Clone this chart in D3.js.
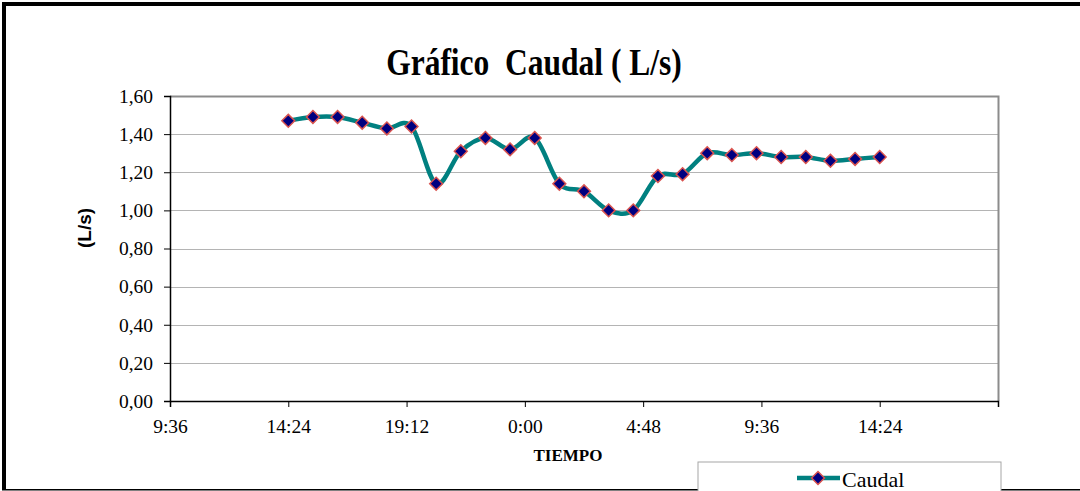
<!DOCTYPE html>
<html>
<head>
<meta charset="utf-8">
<script src="https://cdn.jsdelivr.net/npm/d3@7"></script>
<style>
  html, body { margin: 0; padding: 0; background: #fff; }
  svg { display: block; }
</style>
</head>
<body>
<div id="chart"></div>
<script>
// Hourly readings (time of day), day 1 14:24 to day 2 14:24
const horas = ["14:24", "15:24", "16:24", "17:24", "18:24", "19:24", "20:24", "21:24", "22:24", "23:24",
    "0:24", "1:24", "2:24", "3:24", "4:24", "5:24", "6:24", "7:24", "8:24", "9:24",
    "10:24", "11:24", "12:24", "13:24", "14:24"];
const caudal = [1.47, 1.49, 1.49, 1.46, 1.43, 1.44, 1.14, 1.31, 1.38, 1.32,
    1.38, 1.14, 1.10, 1.00, 1.00, 1.18, 1.19, 1.30, 1.29, 1.30,
    1.28, 1.28, 1.26, 1.27, 1.28];
const xTickLabels = ["9:36", "14:24", "19:12", "0:00", "4:48", "9:36", "14:24", ""];
const yTicks = [0, 0.2, 0.4, 0.6, 0.8, 1.0, 1.2, 1.4, 1.6];

const width = 1080, height = 491;
const margin = { left: 170, right: 82, top: 96, bottom: 90 };

// turn clock strings into hours, rolling over midnight
let prev = -1, dayOffset = 0;
const data = horas.map((h, i) => {
    const [hh, mm] = h.split(':').map(Number);
    let t = hh + mm / 60;
    if (t < prev) dayOffset += 24;
    prev = t;
    return { t: t + dayOffset, v: caudal[i] };
});

const svg = d3.select('#chart').append('svg')
    .attr('width', width)
    .attr('height', height);

// outer frame (only top, left and bottom visible)
svg.append('rect').attr('x', 2).attr('y', 2).attr('width', width).attr('height', 4).attr('fill', '#000');
svg.append('rect').attr('x', 2).attr('y', 2).attr('width', 4).attr('height', 488).attr('fill', '#000');
svg.append('rect').attr('x', 2).attr('y', 489).attr('width', width).attr('height', 1.5).attr('fill', '#000');

const x = d3.scaleLinear()
    .domain([9.6, 9.6 + 4.8 * 7])
    .range([margin.left, width - margin.right]);
const y = d3.scaleLinear()
    .domain([0, 1.6])
    .range([height - margin.bottom, margin.top]);

const plotW = x.range()[1] - x.range()[0];
const plotH = y.range()[0] - y.range()[1];

// gridlines
svg.append('g')
    .selectAll('line')
    .data(yTicks.slice(1, -1))
    .enter().append('line')
    .attr('x1', margin.left).attr('x2', margin.left + plotW)
    .attr('y1', d => Math.round(y(d)) + 0.5).attr('y2', d => Math.round(y(d)) + 0.5)
    .attr('stroke', '#b4b4b4')
    .attr('stroke-width', 1);

// plot border top / right
svg.append('path')
    .attr('d', `M${margin.left},${margin.top + 0.5}H${margin.left + plotW + 0.5}V${margin.top + plotH}`)
    .attr('fill', 'none')
    .attr('stroke', '#8c8c8c')
    .attr('stroke-width', 2);

const fmt = d => d3.format('.2f')(d).replace('.', ',');

// y axis
const yAxis = svg.append('g')
    .attr('transform', `translate(${margin.left},0)`)
    .call(d3.axisLeft(y).tickValues(yTicks).tickFormat(fmt).tickSize(6).tickPadding(11));
yAxis.select('.domain').attr('stroke', '#000').attr('stroke-width', 1.5);
yAxis.selectAll('.tick line').attr('stroke', '#000');
yAxis.selectAll('text')
    .attr('font-family', '"Liberation Serif", "Times New Roman", serif')
    .attr('font-size', 19.5)
    .attr('fill', '#000');

// x axis
const xTicks = xTickLabels.map((_, i) => 9.6 + 4.8 * i);
const xAxis = svg.append('g')
    .attr('transform', `translate(0,${margin.top + plotH})`)
    .call(d3.axisBottom(x).tickValues(xTicks).tickFormat((d, i) => xTickLabels[i]).tickSize(6).tickPadding(12));
xAxis.select('.domain').attr('stroke', '#000').attr('stroke-width', 1.5);
xAxis.selectAll('.tick line').attr('stroke', '#000');
xAxis.selectAll('text')
    .attr('font-family', '"Liberation Serif", "Times New Roman", serif')
    .attr('font-size', 19.5)
    .attr('fill', '#000');

// series line
const line = d3.line()
    .x(d => x(d.t))
    .y(d => y(d.v))
    .curve(d3.curveCardinal.tension(0));

svg.append('path')
    .datum(data)
    .attr('d', line)
    .attr('fill', 'none')
    .attr('stroke', '#008080')
    .attr('stroke-width', 4.5);

const diamond = d3.symbol().type(d3.symbolDiamond2).size(105);

svg.append('g')
    .selectAll('path')
    .data(data)
    .enter().append('path')
    .attr('d', diamond)
    .attr('transform', d => `translate(${x(d.t)},${y(d.v)})`)
    .attr('fill', '#000080')
    .attr('stroke', '#d9534f')
    .attr('stroke-width', 1.5);

// title
svg.append('text')
    .attr('transform', 'translate(534,75) scale(1,1.2)')
    .attr('text-anchor', 'middle')
    .attr('font-family', '"Liberation Serif", "Times New Roman", serif')
    .attr('font-weight', 'bold')
    .attr('font-size', 31.5)
    .attr('xml:space', 'preserve')
    .style('white-space', 'pre')
    .text('Gráfico  Caudal ( L/s)');

// axis titles
svg.append('text')
    .attr('transform', 'translate(91,228) rotate(-90)')
    .attr('text-anchor', 'middle')
    .attr('font-family', '"Liberation Sans", Arial, sans-serif')
    .attr('font-weight', 'bold')
    .attr('font-size', 19)
    .text('(L/s)');

svg.append('text')
    .attr('x', 568).attr('y', 461)
    .attr('text-anchor', 'middle')
    .attr('font-family', '"Liberation Serif", "Times New Roman", serif')
    .attr('font-weight', 'bold')
    .attr('font-size', 17)
    .text('TIEMPO');

// legend
const legend = svg.append('g');
legend.append('rect')
    .attr('x', 698).attr('y', 462)
    .attr('width', 303).attr('height', 40)
    .attr('fill', '#fff')
    .attr('stroke', '#a6a6a6')
    .attr('stroke-width', 1);
legend.append('line')
    .attr('x1', 797).attr('x2', 840)
    .attr('y1', 478).attr('y2', 478)
    .attr('stroke', '#008080')
    .attr('stroke-width', 4.5);
legend.append('path')
    .attr('d', diamond)
    .attr('transform', 'translate(818,478)')
    .attr('fill', '#000080')
    .attr('stroke', '#d9534f')
    .attr('stroke-width', 1.5);
legend.append('text')
    .attr('x', 842).attr('y', 487)
    .attr('font-family', '"Liberation Serif", "Times New Roman", serif')
    .attr('font-size', 22)
    .text('Caudal');
</script>
</body>
</html>
